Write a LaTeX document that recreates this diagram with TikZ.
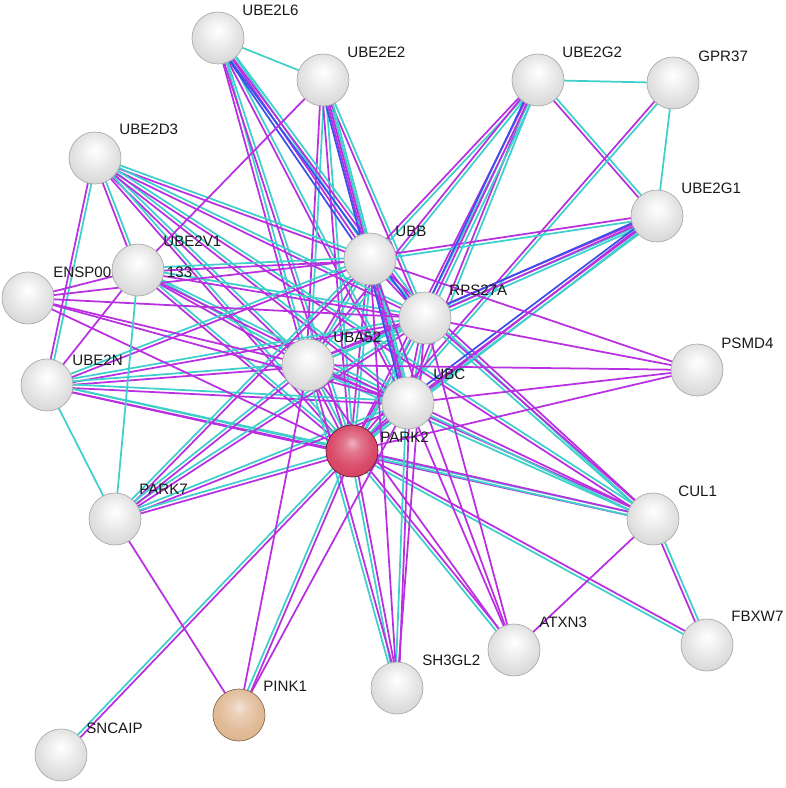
\documentclass[tikz,border=0pt]{standalone}
\usepackage{fontspec}
\setmainfont{Liberation Sans}
\usetikzlibrary{calc,backgrounds}
\definecolor{dbcyan}{RGB}{64,208,204}
\definecolor{expmag}{RGB}{184,48,224}
\definecolor{fusblue}{RGB}{60,80,235}
\definecolor{parkred}{RGB}{215,62,95}
\definecolor{pinktan}{RGB}{222,180,142}
\pgfdeclareradialshading{glossgray}{\pgfpoint{0bp}{8bp}}{color(0bp)=(white); color(8bp)=(gray!8); color(20bp)=(gray!22); color(30bp)=(gray!32); color(40bp)=(gray!48); color(50bp)=(gray!70)}
\pgfdeclareradialshading{glossred}{\pgfpoint{0bp}{8bp}}{color(0bp)=(parkred!40!white); color(8bp)=(parkred!70!white); color(20bp)=(parkred!92!white); color(30bp)=(parkred); color(40bp)=(parkred!80!black); color(50bp)=(parkred!55!black)}
\pgfdeclareradialshading{glosstan}{\pgfpoint{0bp}{8bp}}{color(0bp)=(pinktan!35!white); color(8bp)=(pinktan!65!white); color(20bp)=(pinktan!90!white); color(30bp)=(pinktan); color(40bp)=(pinktan!85!black); color(50bp)=(pinktan!62!black)}
\begin{document}
\begin{tikzpicture}[x=0.02cm, y=-0.02cm, every node/.style={font=\fontsize{8.6}{10}\selectfont},
  prot/.style={circle,minimum size=1.04cm,inner sep=0pt,draw=gray!65,line width=0.4pt,shading=glossgray},
  lbl/.style={anchor=west,inner sep=0pt,text=black!90},
  dbl/.style={dbcyan,line width=1pt},
  exl/.style={expmag,line width=1pt},
  fsl/.style={fusblue,line width=1pt}]
\useasboundingbox (0,0) rectangle (786,788);
% labels
\node[lbl] (ube2l6-t) at (242,10) {UBE2L6};
\node[lbl] (ube2e2-t) at (347,52) {UBE2E2};
\node[lbl] (ube2g2-t) at (562,52) {UBE2G2};
\node[lbl] (gpr37-t) at (698,56) {GPR37};
\node[lbl] (ube2d3-t) at (119,129) {UBE2D3};
\node[lbl] (ube2g1-t) at (681,188) {UBE2G1};
\node[lbl] (ube2v1-t) at (163,241) {UBE2V1};
\node[lbl] (ensp-t) at (53,272) {ENSP00\hspace{31.7pt}133};
\node[lbl] (ubb-t) at (395,231) {UBB};
\node[lbl] (rps27a-t) at (449,290) {RPS27A};
\node[lbl] (psmd4-t) at (721,343) {PSMD4};
\node[lbl] (uba52-t) at (333,337) {UBA52};
\node[lbl] (ube2n-t) at (72,360) {UBE2N};
\node[lbl] (ubc-t) at (433,374) {UBC};
\node[lbl] (park2-t) at (380,437) {PARK2};
\node[lbl] (park7-t) at (139,489) {PARK7};
\node[lbl] (cul1-t) at (678,491) {CUL1};
\node[lbl] (fbxw7-t) at (731,616) {FBXW7};
\node[lbl] (atxn3-t) at (539,622) {ATXN3};
\node[lbl] (sh3gl2-t) at (422,660) {SH3GL2};
\node[lbl] (pink1-t) at (263,686) {PINK1};
\node[lbl] (sncaip-t) at (86,728) {SNCAIP};
% proteins
\node[prot] (ube2l6) at (218,38) {};
\node[prot] (ube2e2) at (323,80) {};
\node[prot] (ube2g2) at (538,80) {};
\node[prot] (gpr37) at (673,83) {};
\node[prot] (ube2d3) at (95,158) {};
\node[prot] (ube2g1) at (657,216) {};
\node[prot] (ube2v1) at (138,270) {};
\node[prot] (ensp) at (28,298) {};
\node[prot] (ubb) at (370,259) {};
\node[prot] (rps27a) at (425,318) {};
\node[prot] (psmd4) at (697,370) {};
\node[prot] (uba52) at (308,365) {};
\node[prot] (ube2n) at (47,385) {};
\node[prot] (ubc) at (408,403) {};
\node[prot,draw=parkred!50!black,shading=glossred] (park2) at (352,451) {};
\node[prot] (park7) at (115,519) {};
\node[prot] (cul1) at (653,519) {};
\node[prot] (fbxw7) at (707,645) {};
\node[prot] (atxn3) at (514,650) {};
\node[prot] (sh3gl2) at (397,688) {};
\node[prot,draw=pinktan!60!black,shading=glosstan] (pink1) at (239,715) {};
\node[prot] (sncaip) at (61,755) {};
\begin{pgfonlayer}{background}
% databases + experiments
\foreach \a/\b in {ubb/rps27a,ubb/uba52,ubb/ubc,ubb/park2,rps27a/uba52,rps27a/ubc,rps27a/park2,uba52/ubc,uba52/park2,ubc/park2,
  ube2l6/uba52,ube2l6/ubc,ube2l6/park2,ube2e2/ubb,ube2e2/rps27a,ube2e2/uba52,ube2e2/park2,
  ube2g2/ubb,ube2g2/uba52,ube2g2/ubc,ube2g2/park2,ube2g2/ube2g1,gpr37/park2,
  ube2g1/ubb,ube2g1/uba52,ube2g1/park2,
  ube2d3/ubb,ube2d3/rps27a,ube2d3/uba52,ube2d3/ubc,ube2d3/park2,ube2d3/cul1,ube2d3/ube2n,ube2d3/ube2v1,
  ube2v1/ubb,ube2v1/rps27a,ube2v1/uba52,ube2v1/ubc,ube2v1/park2,
  ube2n/ubb,ube2n/rps27a,ube2n/uba52,ube2n/ubc,ube2n/park2,ube2n/cul1,
  park7/ubb,park7/rps27a,park7/uba52,park7/ubc,park7/park2,
  cul1/ubb,cul1/rps27a,cul1/uba52,cul1/ubc,cul1/park2,cul1/fbxw7,fbxw7/park2,
  atxn3/park2,sh3gl2/park2,sh3gl2/ubc,sh3gl2/uba52,pink1/park2,sncaip/park2}
{
  \draw[dbl] ($(\a.center)!1pt!90:(\b.center)$) -- ($(\b.center)!1pt!-90:(\a.center)$);
  \draw[exl] ($(\a.center)!1pt!-90:(\b.center)$) -- ($(\b.center)!1pt!90:(\a.center)$);
}
% three kinds of evidence
\foreach \a/\b in {ube2l6/ubb,ube2l6/rps27a,ube2e2/ubc,ube2g2/rps27a,ube2g1/rps27a,ube2g1/ubc}
{
  \draw[dbl] ($(\a.center)!2pt!90:(\b.center)$) -- ($(\b.center)!2pt!-90:(\a.center)$);
  \draw[exl] (\a.center) -- (\b.center);
  \draw[fsl] ($(\a.center)!2pt!-90:(\b.center)$) -- ($(\b.center)!2pt!90:(\a.center)$);
}
% experiments only
\foreach \a/\b in {ube2e2/ube2v1,ube2v1/ube2n,ensp/ube2v1,ensp/ubb,ensp/rps27a,ensp/uba52,ensp/ubc,ensp/park2,
  psmd4/ubb,psmd4/rps27a,psmd4/uba52,psmd4/ubc,psmd4/park2,
  atxn3/ubb,atxn3/rps27a,atxn3/uba52,atxn3/ubc,atxn3/cul1,
  sh3gl2/ubb,sh3gl2/rps27a,pink1/uba52,pink1/ubc,pink1/park7}
  \draw[exl] (\a.center) -- (\b.center);
% databases only
\foreach \a/\b in {ube2l6/ube2e2,ube2g2/gpr37,gpr37/ube2g1,park7/ube2n,park7/ube2v1}
  \draw[dbl] (\a.center) -- (\b.center);
\end{pgfonlayer}
\end{tikzpicture}
\end{document}
